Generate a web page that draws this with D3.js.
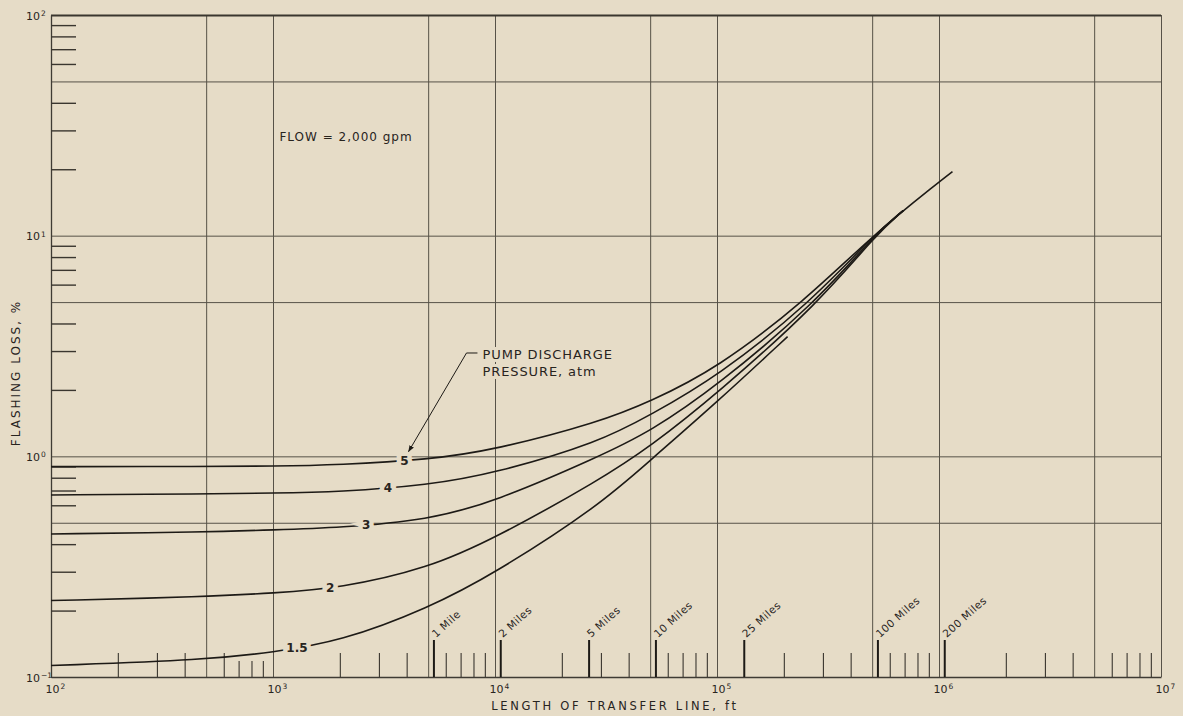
<!DOCTYPE html>
<html>
<head>
<meta charset="utf-8">
<script src="https://cdn.jsdelivr.net/npm/d3@7"></script>
<style>
  html, body { margin: 0; padding: 0; background: #e6dcc7; }
  svg { display: block; }
  text { font-family: "DejaVu Sans", "Liberation Sans", sans-serif; fill: #28241e; }
</style>
</head>
<body>
<svg id="chart" width="1183" height="716"></svg>
<script>
// Flashing loss vs. length of transfer line, flow = 2,000 gpm
// One curve per pump discharge pressure (atm).
const pressures = ["5", "4", "3", "2", "1.5"];

const lengthP5  = [100, 500, 1000, 2000, 5000, 10000, 29600, 50000, 100000, 250000, 500000, 1000000, 1150000];
const lossP5    = [0.898, 0.900, 0.902, 0.915, 0.966, 1.07, 1.43, 1.77, 2.50, 5.08, 10.0, 17.5, 19.5];

const lengthP4  = [100, 500, 1000, 2000, 5000, 10000, 29600, 50000, 100000, 265000, 505000, 690000];
const lossP4    = [0.668, 0.676, 0.681, 0.690, 0.74, 0.838, 1.16, 1.54, 2.29, 5.0, 10.0, 13.0];

const lengthP3  = [100, 500, 1000, 2000, 5000, 10000, 29600, 50000, 100000, 280000, 510000, 690000];
const lossP3    = [0.445, 0.454, 0.464, 0.475, 0.515, 0.623, 1.0, 1.294, 2.08, 5.0, 10.0, 13.0];

const lengthP2  = [100, 500, 1000, 2000, 5000, 10000, 29600, 50000, 100000, 290000, 515000, 690000];
const lossP2    = [0.222, 0.231, 0.240, 0.2525, 0.311, 0.4255, 0.782, 1.107, 1.92, 5.0, 10.0, 13.0];

const lengthP15 = [100, 500, 1000, 2000, 5000, 10000, 29600, 50000, 100000, 208000];
const lossP15   = [0.1127, 0.1195, 0.1296, 0.1446, 0.205, 0.2954, 0.60, 0.96, 1.76, 3.49];

// Where each pressure label sits along its curve (ft)
const labelLength = [3908, 3290, 2630, 1810, 1282];

// Distance markers along the length axis
const mileNames = ["1 Mile", "2 Miles", "5 Miles", "10 Miles", "25 Miles", "100 Miles", "200 Miles"];
const mileFeet  = [5280, 10560, 26400, 52800, 132000, 528000, 1056000];

// Grid and tick values
const gridLength = [1e2, 5e2, 1e3, 5e3, 1e4, 5e4, 1e5, 5e5, 1e6, 5e6, 1e7];
const gridLoss   = [0.1, 0.5, 1, 5, 10, 50, 100];
const minorMultipliers = [2, 3, 4, 6, 7, 8, 9];
const lengthDecades = [1e2, 1e3, 1e4, 1e5, 1e6];
const lossDecades   = [0.1, 1, 10];
const lengthExponents = [2, 3, 4, 5, 6, 7];
const lossExponents   = [-1, 0, 1, 2];

// ---------------------------------------------------------------
const svg = d3.select("#chart");
const BG = "#e6dcc7", INK = "#1d1a16", GRID = "#575248";

const x = d3.scaleLog().domain([1e2, 1e7]).range([51, 1161]);
const y = d3.scaleLog().domain([0.1, 100]).range([677, 15]);
const plotW = x.range()[1] - x.range()[0];
const plotH = y.range()[0] - y.range()[1];

// Vertical grid
svg.append("g")
  .attr("transform", `translate(0,${y(0.1)})`)
  .call(d3.axisBottom(x).tickValues(gridLength).tickSize(-plotH).tickSizeOuter(0).tickFormat(""))
  .call(g => g.select(".domain").remove())
  .selectAll("line").attr("stroke", GRID).attr("stroke-width", 1);

// Horizontal grid
svg.append("g")
  .attr("transform", `translate(${x(1e2)},0)`)
  .call(d3.axisLeft(y).tickValues(gridLoss).tickSize(-plotW).tickSizeOuter(0).tickFormat(""))
  .call(g => g.select(".domain").remove())
  .selectAll("line")
  .attr("stroke", d => d === 100 ? "#3a362f" : GRID)
  .attr("stroke-width", d => d === 100 ? 1.8 : 1);

// Frame (left and bottom)
svg.append("g")
  .attr("transform", `translate(${x(1e2)},0)`)
  .call(d3.axisLeft(y).tickValues([]).tickSizeOuter(0))
  .select(".domain").attr("stroke", "#3f3b34").attr("stroke-width", 1.3);
svg.append("g")
  .attr("transform", `translate(0,${y(0.1)})`)
  .call(d3.axisBottom(x).tickValues([]).tickSizeOuter(0))
  .select(".domain").attr("stroke", "#3f3b34").attr("stroke-width", 1.3);

// Minor ticks on the length axis
const minorLength = [];
lengthDecades.forEach(dec => minorMultipliers.forEach(m => minorLength.push(m * dec)));
svg.append("g")
  .attr("transform", `translate(0,${y(0.1)})`)
  .call(d3.axisBottom(x).tickValues(minorLength).tickSize(-24).tickSizeOuter(0).tickFormat(""))
  .call(g => g.select(".domain").remove())
  .selectAll("line")
  .attr("y2", d => (d >= 700 && d < 1000) ? -16 : -24)
  .attr("stroke", "#3a362f").attr("stroke-width", 1.1);

// Minor ticks on the loss axis
const minorLoss = [];
lossDecades.forEach(dec => minorMultipliers.forEach(m => minorLoss.push(m * dec)));
svg.append("g")
  .attr("transform", `translate(${x(1e2)},0)`)
  .call(d3.axisLeft(y).tickValues(minorLoss).tickSize(-25).tickSizeOuter(0).tickFormat(""))
  .call(g => g.select(".domain").remove())
  .selectAll("line").attr("stroke", "#3a362f").attr("stroke-width", 1.4);

// Mile markers with slanted labels
const mileAxis = svg.append("g")
  .attr("transform", `translate(0,${y(0.1)})`)
  .call(d3.axisBottom(x).tickValues(mileFeet).tickSize(-37).tickSizeOuter(0)
        .tickFormat((d, i) => mileNames[i]))
  .call(g => g.select(".domain").remove());
mileAxis.selectAll("line").attr("stroke", INK).attr("stroke-width", 2);
mileAxis.selectAll("text")
  .attr("y", null).attr("dy", null)
  .attr("text-anchor", "start")
  .attr("transform", "translate(2,-39) rotate(-42)")
  .attr("font-size", 10.5).attr("letter-spacing", 0.5)
  .attr("fill", "#28241e")
  .style("font-family", "\"DejaVu Sans\", sans-serif");

// Decade labels, length axis
const xLab = svg.append("g");
lengthExponents.forEach(e => {
  const px = x(Math.pow(10, e));
  xLab.append("text").attr("x", px - 5.5).attr("y", 693).attr("font-size", 11).text("10");
  xLab.append("text").attr("x", px + 9.5).attr("y", 688.5).attr("font-size", 7.5).text(String(e));
});

// Decade labels, loss axis
const yLab = svg.append("g");
lossExponents.forEach(e => {
  const py = y(Math.pow(10, e));
  yLab.append("text").attr("x", 40).attr("y", py + 4.5).attr("text-anchor", "end")
    .attr("font-size", 11).text("10");
  yLab.append("text").attr("x", 41).attr("y", py + 1).attr("font-size", 7.5)
    .text(e < 0 ? "\u2212" + Math.abs(e) : String(e));
});

// Axis titles
svg.append("text")
  .attr("x", 615).attr("y", 710).attr("text-anchor", "middle")
  .attr("font-size", 11.5).attr("letter-spacing", 2.7)
  .text("LENGTH OF TRANSFER LINE, ft");
svg.append("text")
  .attr("transform", `translate(20,373) rotate(-90)`)
  .attr("text-anchor", "middle")
  .attr("font-size", 12).attr("letter-spacing", 2.0)
  .text("FLASHING LOSS, %");

// Curves
const series = [
  { name: pressures[0], len: lengthP5,  loss: lossP5,  at: labelLength[0] },
  { name: pressures[1], len: lengthP4,  loss: lossP4,  at: labelLength[1] },
  { name: pressures[2], len: lengthP3,  loss: lossP3,  at: labelLength[2] },
  { name: pressures[3], len: lengthP2,  loss: lossP2,  at: labelLength[3] },
  { name: pressures[4], len: lengthP15, loss: lossP15, at: labelLength[4] }
];

// Smooth B-spline through the read points
const line = d3.line()
  .x(d => x(d[0]))
  .y(d => y(d[1]))
  .curve(d3.curveBasis);

const curves = svg.append("g");
series.forEach(s => {
  s.node = curves.append("path")
    .datum(s.len.map((L, i) => [L, s.loss[i]]))
    .attr("d", line)
    .attr("fill", "none")
    .attr("stroke", INK)
    .attr("stroke-width", 1.6)
    .attr("stroke-linejoin", "round")
    .node();
});

// Find the point of a path at a given horizontal pixel position
function pointAtX(node, px) {
  let lo = 0, hi = node.getTotalLength();
  for (let k = 0; k < 40; k++) {
    const mid = (lo + hi) / 2;
    if (node.getPointAtLength(mid).x < px) lo = mid; else hi = mid;
  }
  return node.getPointAtLength((lo + hi) / 2);
}

// Pressure labels sitting in a gap in each curve
const labels = svg.append("g");
series.forEach(s => {
  const p = pointAtX(s.node, x(s.at));
  labels.append("text")
    .attr("x", p.x).attr("y", p.y).attr("dy", "0.36em")
    .attr("text-anchor", "middle")
    .attr("font-size", 12).attr("font-weight", "bold")
    .attr("stroke", BG).attr("stroke-width", 9)
    .attr("paint-order", "stroke")
    .attr("fill", INK)
    .text(s.name);
});

// Notes
const flowNote = { len: 1069, loss: 26.85 };
svg.append("text")
  .attr("x", x(flowNote.len)).attr("y", y(flowNote.loss))
  .attr("font-size", 12).attr("letter-spacing", 1.0)
  .text("FLOW = 2,000 gpm");

const pumpNote = { len: 8784, loss: 2.761 };
const pumpText = svg.append("text")
  .attr("x", x(pumpNote.len)).attr("y", y(pumpNote.loss))
  .attr("font-size", 13).attr("letter-spacing", 0.9)
  .attr("stroke", BG).attr("stroke-width", 6).attr("paint-order", "stroke");
pumpText.append("tspan").text("PUMP DISCHARGE");
pumpText.append("tspan").attr("x", x(pumpNote.len)).attr("dy", 17).text("PRESSURE, atm");

// Leader from the note to the "5" curve
svg.append("defs").append("marker")
  .attr("id", "arrow")
  .attr("viewBox", "0 0 10 10")
  .attr("refX", 9).attr("refY", 5)
  .attr("markerWidth", 7).attr("markerHeight", 7)
  .attr("markerUnits", "userSpaceOnUse")
  .attr("orient", "auto")
  .append("path").attr("d", "M0,1.5 L10,5 L0,8.5 Z").attr("fill", INK);

const leader = [[8337, 2.94], [7440, 2.94], [4078, 1.05]];
svg.append("path")
  .datum(leader)
  .attr("d", d3.line().x(d => x(d[0])).y(d => y(d[1])))
  .attr("fill", "none")
  .attr("stroke", INK)
  .attr("stroke-width", 1)
  .attr("marker-end", "url(#arrow)");
</script>
</body>
</html>
